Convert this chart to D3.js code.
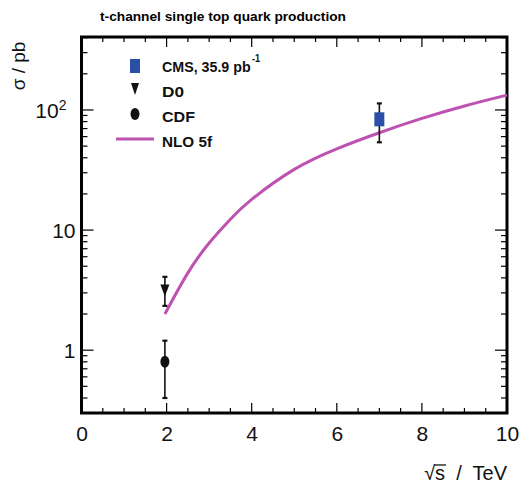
<!DOCTYPE html>
<html>
<head>
<meta charset="utf-8">
<script src="https://cdn.jsdelivr.net/npm/d3@7"></script>
<style>
  html, body { margin: 0; padding: 0; background: #fff; }
  svg { display: block; font-family: "Liberation Sans", Arial, sans-serif; }
</style>
</head>
<body>
<svg id="chart" width="520" height="489"></svg>
<script>
// Measurements (sqrt(s) in TeV, cross section in pb)
const cmsX = [7];
const cmsY = [83.6];
const cmsErr = [29.8];

const d0X = [1.96];
const d0Y = [3.14];
const d0ErrUp = [0.94];
const d0ErrDown = [0.80];

const cdfX = [1.96];
const cdfY = [0.8];
const cdfErr = [0.4];

// NLO 5-flavour prediction
const nloX = [1.96, 2.5, 3, 3.5, 4, 5, 6, 7, 8, 9, 10];
const nloY = [2.0, 4.4, 7.8, 12.3, 18.0, 32, 47.5, 64.6, 85, 108, 133];

const xTicks = [0, 2, 4, 6, 8, 10];
const yTickLabels = ["1", "10", "10²"];

const svg = d3.select("#chart");
const m = { left: 81.5, right: 507, top: 37, bottom: 413 };

const x = d3.scaleLinear().domain([0, 10]).range([m.left, m.right]);
const y = d3.scaleLog().domain([0.3, 405]).range([m.bottom, m.top]);

// Title
svg.append("text")
  .attr("x", 100).attr("y", 21)
  .attr("font-size", 13).attr("font-weight", "bold")
  .attr("textLength", 246).attr("lengthAdjust", "spacingAndGlyphs")
  .text("t-channel single top quark production");

const g = svg.append("g");

// Ticks along the frame, pointing inward
const xMinor = d3.range(0, 10.01, 0.5);
const yMinor = [];
[0.1, 1, 10, 100].forEach(d => { for (let k = 1; k < 10; k++) { const v = d * k; if (v >= 0.3 && v <= 405) yMinor.push(v); } });

const tickG = g.append("g").attr("stroke", "#000").attr("stroke-width", 1.2);
xMinor.forEach(v => {
  const major = Math.abs(v - Math.round(v / 2) * 2) < 1e-6;
  const len = major ? 10 : 5;
  tickG.append("line").attr("x1", x(v)).attr("x2", x(v)).attr("y1", m.bottom).attr("y2", m.bottom - len);
  tickG.append("line").attr("x1", x(v)).attr("x2", x(v)).attr("y1", m.top).attr("y2", m.top + len);
});
yMinor.forEach(v => {
  const major = [1, 10, 100].includes(v);
  const len = major ? 12 : 6;
  tickG.append("line").attr("x1", m.left).attr("x2", m.left + len).attr("y1", y(v)).attr("y2", y(v));
  tickG.append("line").attr("x1", m.right).attr("x2", m.right - len).attr("y1", y(v)).attr("y2", y(v));
});

// Frame
g.append("rect")
  .attr("x", m.left).attr("y", m.top)
  .attr("width", m.right - m.left).attr("height", m.bottom - m.top)
  .attr("fill", "none").attr("stroke", "#000").attr("stroke-width", 3);

// Axis labels
const xAxisG = svg.append("g").attr("transform", `translate(0,${m.bottom})`)
  .call(d3.axisBottom(x).tickValues(xTicks).tickSize(0).tickPadding(13).tickFormat(d3.format("d")));
xAxisG.select(".domain").remove();
xAxisG.selectAll("text").attr("font-size", 21).attr("font-family", "Liberation Sans, Arial, sans-serif").attr("fill", "#111");

const yAxisG = svg.append("g").attr("transform", `translate(${m.left},0)`)
  .call(d3.axisLeft(y).tickValues([1, 10, 100]).tickSize(0).tickPadding(6).tickFormat(() => ""));
yAxisG.select(".domain").remove();
yAxisG.selectAll(".tick").each(function (d, i) {
  const t = d3.select(this).select("text").attr("font-size", 21).attr("dy", "0.36em")
    .attr("font-family", "Liberation Sans, Arial, sans-serif").attr("fill", "#111");
  if (d === 100) {
    t.text("10");
    t.attr("dx", -9);
    t.append("tspan").attr("font-size", 14).attr("dy", "-0.6em").text("2");
  } else {
    t.text(yTickLabels[i]);
  }
});

// Axis titles
svg.append("text")
  .attr("transform", "translate(25,66) rotate(-90)")
  .attr("text-anchor", "middle").attr("font-size", 19).attr("fill", "#111")
  .text("σ / pb");
const xTitle = svg.append("text")
  .attr("x", 507).attr("y", 480).attr("text-anchor", "end")
  .attr("font-size", 20).attr("fill", "#111")
  .attr("xml:space", "preserve")
  .text("√s  /  TeV");
// overbar of the square root
const tb = xTitle.node().getBBox();
svg.append("line")
  .attr("x1", tb.x + 10).attr("x2", tb.x + 22)
  .attr("y1", tb.y + 3).attr("y2", tb.y + 3)
  .attr("stroke", "#111").attr("stroke-width", 1.3);

// NLO curve
const line = d3.line().x((d, i) => x(nloX[i])).y(d => y(d)).curve(d3.curveNatural);
svg.append("path")
  .datum(nloY)
  .attr("d", line)
  .attr("fill", "none").attr("stroke", "#bd52b0").attr("stroke-width", 3);

// Error bars
function errBar(xv, lo, hi) {
  const eg = svg.append("g").attr("stroke", "#111").attr("stroke-width", 1.6);
  eg.append("line").attr("x1", x(xv)).attr("x2", x(xv)).attr("y1", y(lo)).attr("y2", y(hi));
  [lo, hi].forEach(v => eg.append("line").attr("x1", x(xv) - 2.5).attr("x2", x(xv) + 2.5).attr("y1", y(v)).attr("y2", y(v)).attr("stroke-width", 2.2));
}
cmsX.forEach((v, i) => errBar(v, cmsY[i] - cmsErr[i], cmsY[i] + cmsErr[i]));
d0X.forEach((v, i) => errBar(v, d0Y[i] - d0ErrDown[i], d0Y[i] + d0ErrUp[i]));
cdfX.forEach((v, i) => errBar(v, cdfY[i] - cdfErr[i], cdfY[i] + cdfErr[i]));

// Markers
svg.selectAll(".cms").data(cmsX).join("rect")
  .attr("x", d => x(d) - 5).attr("y", (d, i) => y(cmsY[i]) - 7)
  .attr("width", 10).attr("height", 14).attr("fill", "#2b4fa6");
svg.selectAll(".d0").data(d0X).join("path")
  .attr("d", (d, i) => { const cx = x(d), cy = y(d0Y[i]); return `M${cx - 4.5},${cy - 6}L${cx + 4.5},${cy - 6}L${cx},${cy + 6}Z`; })
  .attr("fill", "#111");
svg.selectAll(".cdf").data(cdfX).join("ellipse")
  .attr("cx", d => x(d)).attr("cy", (d, i) => y(cdfY[i]))
  .attr("rx", 4.5).attr("ry", 6).attr("fill", "#111");

// Legend
const lg = svg.append("g").attr("font-size", 15.5).attr("font-weight", "bold").attr("fill", "#111");
lg.append("rect").attr("x", 130).attr("y", 59).attr("width", 10).attr("height", 14).attr("fill", "#2b4fa6");
// CMS entry: main label narrowed horizontally, superscript placed right after it
const cmsG = lg.append("g").attr("transform", "translate(162,72) scale(0.92,1)");
const cmsMain = cmsG.append("text").attr("x", 0).attr("y", 0).text("CMS, 35.9 pb");
const mainW = cmsMain.node().getComputedTextLength();
cmsG.append("text").attr("x", mainW + 1.5).attr("y", -10).attr("font-size", 10).text("-1");
lg.append("path").attr("d", "M131,83L139,83L135,95Z").attr("fill", "#111");
lg.append("text").attr("x", 162).attr("y", 97).attr("textLength", 22).attr("lengthAdjust", "spacingAndGlyphs").text("D0");
lg.append("ellipse").attr("cx", 135).attr("cy", 114).attr("rx", 4.5).attr("ry", 6).attr("fill", "#111");
lg.append("text").attr("x", 162).attr("y", 122).attr("textLength", 33).attr("lengthAdjust", "spacingAndGlyphs").text("CDF");
lg.append("line").attr("x1", 116).attr("x2", 154).attr("y1", 139).attr("y2", 139).attr("stroke", "#bd52b0").attr("stroke-width", 3);
lg.append("text").attr("x", 162).attr("y", 147).attr("textLength", 50).attr("lengthAdjust", "spacingAndGlyphs").text("NLO 5f");
</script>
</body>
</html>
